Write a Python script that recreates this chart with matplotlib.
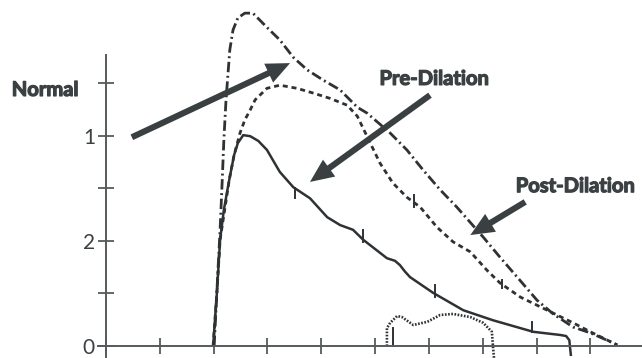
import matplotlib
matplotlib.use("Agg")
import matplotlib.pyplot as plt
import matplotlib.patheffects as pe

plt.rcParams['lines.scale_dashes'] = False

# ---- data ----
solid_x = [1.99, 2.06, 2.12, 2.19, 2.29, 2.38, 2.45, 2.55, 2.68, 2.83, 2.99, 3.23, 3.48, 3.79,
           4.11, 4.35, 4.59, 4.78, 5.22, 5.37, 5.46, 5.56, 5.65, 6.08, 6.64, 7.19, 7.94, 8.44,
           8.55, 8.61, 8.62, 8.64]
solid_y = [0.00, 1.01, 2.02, 2.59, 3.16, 3.63, 3.86, 4.01, 3.99, 3.90, 3.73, 3.31, 3.02, 2.81,
           2.45, 2.30, 2.21, 2.02, 1.67, 1.62, 1.54, 1.41, 1.31, 1.01, 0.68, 0.49, 0.27, 0.21,
           0.19, 0.11, 0.00, -0.19]

dashed_x = [1.99, 2.06, 2.12, 2.29, 2.38, 2.49, 2.58, 2.68, 2.77, 2.99, 3.23, 3.55, 3.85, 4.16,
            4.48, 4.67, 4.91, 5.09, 5.33, 5.59, 5.84, 6.15, 6.45, 6.77, 7.08, 7.32, 7.70, 8.20,
            8.68, 9.00, 9.28, 9.50]
dashed_y = [0.00, 1.01, 2.02, 3.16, 3.63, 4.05, 4.30, 4.49, 4.68, 4.90, 4.96, 4.90, 4.81, 4.71,
            4.58, 4.37, 3.86, 3.48, 3.10, 2.83, 2.64, 2.26, 1.98, 1.79, 1.44, 1.20, 0.93, 0.68,
            0.44, 0.27, 0.13, 0.02]

dashdot_x = [2.01, 2.08, 2.12, 2.16, 2.19, 2.23, 2.30, 2.36, 2.45, 2.58, 2.73, 2.99, 3.23, 3.48,
             3.74, 4.03, 4.35, 4.67, 4.85, 5.28, 5.59, 5.89, 6.21, 6.52, 7.01, 7.32, 7.70, 8.01,
             8.31, 8.68, 9.00, 9.31, 9.50]
dashdot_y = [0.00, 1.44, 2.21, 3.16, 3.92, 4.68, 5.63, 6.01, 6.24, 6.33, 6.33, 6.06, 5.82, 5.49,
             5.25, 5.06, 4.87, 4.54, 4.43, 4.05, 3.73, 3.35, 2.97, 2.64, 2.07, 1.69, 1.24, 0.87,
             0.61, 0.36, 0.25, 0.11, 0.02]

dotted_x = [5.22, 5.22, 5.28, 5.41, 5.50, 5.71, 5.97, 6.21, 6.45, 6.77, 7.01, 7.17, 7.19, 7.21]
dotted_y = [0.00, 0.34, 0.44, 0.57, 0.55, 0.40, 0.46, 0.59, 0.61, 0.55, 0.44, 0.27, 0.00, -0.23]

# small timing marks on the curves
mark_x = [3.51, 4.78, 6.11, 7.92, 5.72, 7.36, 5.33]
mark_y0 = [3.00, 1.98, 0.93, 0.27, 2.87, 1.25, 0.00]
mark_y1 = [2.81, 2.21, 1.16, 0.46, 2.64, 1.10, 0.34]

y_ticks = [0, 1, 2, 3, 4, 5]
y_tick_labels = ['0', '', '2', '', '1', '']
x_ticks = [0, 1, 2, 3, 4, 5, 6, 7, 8, 9]

# arrows: (tail_x, tail_y, tip_x, tip_y)
arrow_tail_x = [0.48, 6.02, 7.79]
arrow_tail_y = [3.97, 4.77, 2.74]
arrow_tip_x = [3.42, 3.79, 6.77]
arrow_tip_y = [5.38, 3.12, 2.11]

labels_text = ['Normal', 'Pre-Dilation', 'Post-Dilation']
labels_x = [-1.13, 6.10, 8.72]
labels_y = [4.87, 5.08, 3.04]

# ---- drawing ----
line_c = '#2f3234'
axis_c = '#555a5c'
text_c = '#3b4042'

fig = plt.figure(figsize=(6.42, 3.58), dpi=100)
ax = fig.add_axes([0, 0, 1, 1])
ax.set_xlim(-1.97, 9.96)
ax.set_ylim(-0.228, 6.58)

for s in ['top', 'right']:
    ax.spines[s].set_visible(False)
ax.spines['left'].set_position(('data', 0))
ax.spines['bottom'].set_position(('data', 0))
ax.spines['left'].set_bounds(-0.25, 5.53)
ax.spines['bottom'].set_bounds(-0.15, 9.96)
for s in ['left', 'bottom']:
    ax.spines[s].set_color(axis_c)
    ax.spines[s].set_linewidth(1.4)

ax.set_yticks(y_ticks)
ax.set_yticklabels(y_tick_labels)
ax.set_xticks(x_ticks)
ax.set_xticklabels([])
ax.tick_params(axis='both', direction='inout', length=12, width=1.3, colors=axis_c)
ax.tick_params(axis='y', pad=2, labelsize=15, labelcolor=text_c)
for lab in ax.get_yticklabels():
    lab.set_fontfamily('Lato')

ax.plot(solid_x, solid_y, color=line_c, lw=1.8, solid_capstyle='butt')
ax.plot(dashed_x, dashed_y, color=line_c, lw=2.0, dashes=(3.6, 2.8))
ax.plot(dashdot_x, dashdot_y, color=line_c, lw=2.0, dashes=(7.5, 2.6, 1.4, 2.6))
ax.plot(dotted_x, dotted_y, color=line_c, lw=1.9, dashes=(1.2, 1.1))

for mx, y0, y1 in zip(mark_x, mark_y0, mark_y1):
    ax.plot([mx, mx], [y0, y1], color=line_c, lw=1.4)

for tx, ty, hx, hy in zip(arrow_tail_x, arrow_tail_y, arrow_tip_x, arrow_tip_y):
    ax.annotate('', xy=(hx, hy), xytext=(tx, ty),
                arrowprops=dict(arrowstyle='simple,head_length=0.85,head_width=0.75,tail_width=0.22',
                                mutation_scale=20, lw=0, color='#3a3f41',
                                shrinkA=0, shrinkB=0))

for t, x, y in zip(labels_text, labels_x, labels_y):
    ax.text(x, y, t, ha='center', va='center', fontsize=14.5, fontweight='bold',
            family='Lato', color=text_c,
            path_effects=[pe.withStroke(linewidth=0.9, foreground=text_c)])

fig.savefig('out.png', dpi=100)
